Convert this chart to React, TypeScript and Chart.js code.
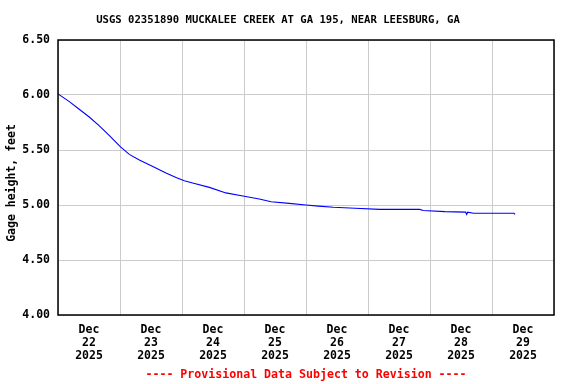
import React, { useEffect, useRef } from "react";
import { Chart, registerables } from "chart.js";

Chart.register(...registerables);

const TITLE = "USGS 02351890 MUCKALEE CREEK AT GA 195, NEAR LEESBURG, GA";
const Y_TITLE = "Gage height, feet";
const FOOTER = "---- Provisional Data Subject to Revision ----";

// hours since Dec 22 2025 00:00
const hours = [0, 4.4, 8.2, 12.1, 16, 19.9, 24.1, 27.6, 31.5, 36.7, 41.8, 45.7, 48.9, 52.1, 58.6, 65, 72.1, 77.9, 82.5, 89.5, 96, 100.8, 106.6, 115, 124.6, 140, 141.4, 149.8, 157.8, 158.2, 158.6, 160.8, 176.5, 176.9];
const gage = [6.01, 5.94, 5.87, 5.8, 5.72, 5.63, 5.53, 5.46, 5.41, 5.35, 5.29, 5.25, 5.22, 5.2, 5.16, 5.11, 5.08, 5.055, 5.03, 5.015, 5.0, 4.99, 4.98, 4.97, 4.96, 4.96, 4.95, 4.94, 4.935, 4.915, 4.935, 4.925, 4.925, 4.915];

const dayLabels = ["22", "23", "24", "25", "26", "27", "28", "29"];
const monthLabel = "Dec";
const yearLabel = "2025";
const yTicks = [4.0, 4.5, 5.0, 5.5, 6.0, 6.5];

const FONT = "'DejaVu Sans Mono', monospace";

export default function App() {
  const ref = useRef<HTMLCanvasElement | null>(null);
  useEffect(() => {
    const canvas = ref.current;
    if (!canvas) return;
    const decor = {
      id: "decor",
      afterDraw(chart: any) {
        const { ctx, chartArea } = chart;
        ctx.save();
        ctx.strokeStyle = "#000";
        ctx.lineWidth = 1.5;
        ctx.strokeRect(chartArea.left, chartArea.top, chartArea.right - chartArea.left, chartArea.bottom - chartArea.top);
        ctx.fillStyle = "#000";
        ctx.textAlign = "center";
        ctx.textBaseline = "middle";
        ctx.font = `bold 10.6px ${FONT}`;
        ctx.fillText(TITLE, 278, 20);
        ctx.fillStyle = "#ff0000";
        ctx.font = `bold 11.6px ${FONT}`;
        ctx.fillText(FOOTER, 306, 375);
        ctx.fillStyle = "#000";
        ctx.font = `bold 11.5px ${FONT}`;
        ctx.translate(12, 183);
        ctx.rotate(-Math.PI / 2);
        ctx.fillText(Y_TITLE, 0, 0);
        ctx.restore();
      },
    };
    const chart = new Chart(canvas, {
      type: "line",
      data: {
        datasets: [
          {
            data: hours.map((h, i) => ({ x: h, y: gage[i] })),
            borderColor: "#0000ff",
            borderWidth: 1.1,
            pointRadius: 0,
            tension: 0,
            fill: false,
          },
        ],
      },
      options: {
        responsive: false,
        animation: false,
        layout: { padding: { top: 40, right: 22, left: 0, bottom: 0 } },
        plugins: { legend: { display: false }, tooltip: { enabled: false }, title: { display: false } },
        scales: {
          x: {
            type: "linear",
            min: 0,
            max: 192,
            afterFit: (s: any) => { s.height = 69; },
            afterBuildTicks: (s: any) => {
              const t = [];
              for (let v = 0; v <= 192; v += 12) t.push({ value: v });
              s.ticks = t;
            },
            border: { display: false },
            grid: {
              drawTicks: false,
              color: (c: any) => (c.tick && c.tick.value % 24 === 0 ? "#cccccc" : "rgba(0,0,0,0)"),
              lineWidth: 1,
            },
            ticks: {
              autoSkip: false,
              maxRotation: 0,
              padding: 9,
              color: "#000",
              font: { family: FONT, size: 11.5, weight: "bold", lineHeight: 1.1 },
              callback: (v: any) => {
                const n = Number(v);
                if (n % 24 === 12) {
                  const i = (n - 12) / 24;
                  return [monthLabel, dayLabels[i], yearLabel];
                }
                return "";
              },
            },
          },
          y: {
            min: 4,
            max: 6.5,
            afterFit: (s: any) => { s.width = 58; },
            afterBuildTicks: (s: any) => { s.ticks = yTicks.map((v) => ({ value: v })); },
            border: { display: false },
            grid: { drawTicks: false, color: "#cccccc", lineWidth: 1 },
            ticks: {
              padding: 8,
              color: "#000",
              font: { family: FONT, size: 11.5, weight: "bold" },
              callback: (v: any) => Number(v).toFixed(2),
            },
          },
        },
      },
      plugins: [decor],
    } as any);
    return () => chart.destroy();
  }, []);
  return (
    <div style={{ position: "fixed", left: 0, top: 0, width: 576, height: 384, background: "#fff" }}>
      <canvas ref={ref} width={576} height={384} style={{ display: "block", width: 576, height: 384 }} />
    </div>
  );
}
